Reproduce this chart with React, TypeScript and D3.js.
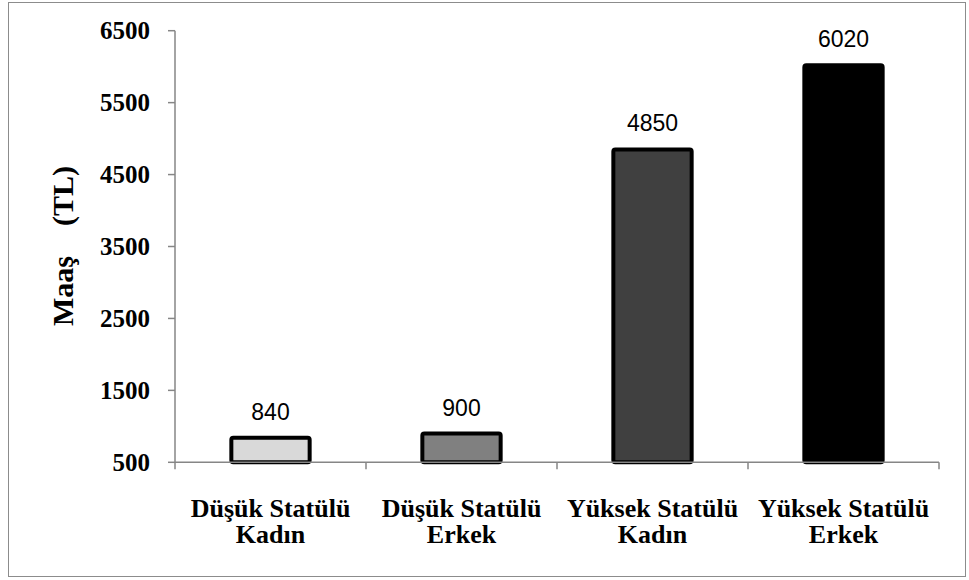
import React from "react";
import * as d3 from "d3";

const categories: string[][] = [
  ["Düşük Statülü", "Kadın"],
  ["Düşük Statülü", "Erkek"],
  ["Yüksek Statülü", "Kadın"],
  ["Yüksek Statülü", "Erkek"],
];
const values: number[] = [840, 900, 4850, 6020];
const barColors: string[] = ["#d9d9d9", "#808080", "#404040", "#000000"];
const yTicks: number[] = [500, 1500, 2500, 3500, 4500, 5500, 6500];
const yTitle = "Maaş    (TL)";

const W = 969;
const H = 580;
const plotLeft = 175;
const plotRight = 939;
const plotTop = 30.7;
const plotBottom = 462.3;

const serif = '"Liberation Serif", "Times New Roman", serif';
const sans = '"Liberation Sans", Arial, sans-serif';
const axisGray = "#868686";

export default function App() {
  const x = d3
    .scaleBand<number>()
    .domain(categories.map((_, i) => i))
    .range([plotLeft, plotRight])
    .paddingInner(0)
    .paddingOuter(0);
  const y = d3.scaleLinear().domain([500, 6500]).range([plotBottom, plotTop]);
  const bw = x.bandwidth();
  const barW = bw * 0.41;
  const bounds = d3.range(categories.length + 1).map((i) => plotLeft + i * bw);

  return (
    <svg
      width={W}
      height={H}
      style={{ position: "absolute", left: 0, top: 0, background: "#fff" }}
    >
      <rect x={8.5} y={2.5} width={957} height={574} fill="#fff" stroke="#8c8c8c" strokeWidth={1} />

      {/* bars */}
      {values.map((v, i) => {
        const cx = (x(i) as number) + bw / 2;
        return (
          <rect
            key={i}
            x={cx - barW / 2}
            y={y(v)}
            width={barW}
            height={y(500) - y(v)}
            rx={2}
            ry={2}
            fill={barColors[i]}
            stroke="#000"
            strokeWidth={4}
          />
        );
      })}

      {/* y axis */}
      <line x1={plotLeft} x2={plotLeft} y1={y(6500)} y2={y(500)} stroke={axisGray} strokeWidth={1.5} />
      {yTicks.map((t) => (
        <g key={t}>
          <line x1={plotLeft - 7} x2={plotLeft} y1={y(t)} y2={y(t)} stroke={axisGray} strokeWidth={1.5} />
          <text
            x={150}
            y={y(t) + 8.5}
            textAnchor="end"
            fontFamily={serif}
            fontWeight="bold"
            fontSize={25}
            fill="#000"
          >
            {t}
          </text>
        </g>
      ))}

      {/* x axis */}
      <line x1={plotLeft} x2={plotRight} y1={y(500)} y2={y(500)} stroke={axisGray} strokeWidth={1.5} />
      {bounds.map((bx, i) => (
        <line key={i} x1={bx} x2={bx} y1={y(500)} y2={y(500) + 7} stroke={axisGray} strokeWidth={1.5} />
      ))}

      {/* category labels */}
      {categories.map((lines, i) => {
        const cx = (x(i) as number) + bw / 2;
        return (
          <text
            key={i}
            textAnchor="middle"
            fontFamily={serif}
            fontWeight="bold"
            fontSize={26}
            fill="#000"
          >
            {lines.map((l, j) => (
              <tspan key={j} x={cx} y={517 + j * 26}>
                {l}
              </tspan>
            ))}
          </text>
        );
      })}

      {/* value labels */}
      {values.map((v, i) => {
        const cx = (x(i) as number) + bw / 2;
        return (
          <text
            key={i}
            x={cx}
            y={y(v) - 18}
            textAnchor="middle"
            fontFamily={sans}
            fontSize={23}
            fill="#000"
          >
            {v}
          </text>
        );
      })}

      {/* y title */}
      <text
        transform={`translate(73, 246) rotate(-90)`}
        textAnchor="middle"
        fontFamily={serif}
        fontWeight="bold"
        fontSize={30}
        fill="#000"
        style={{ whiteSpace: "pre" }}
      >
        {yTitle}
      </text>
    </svg>
  );
}
